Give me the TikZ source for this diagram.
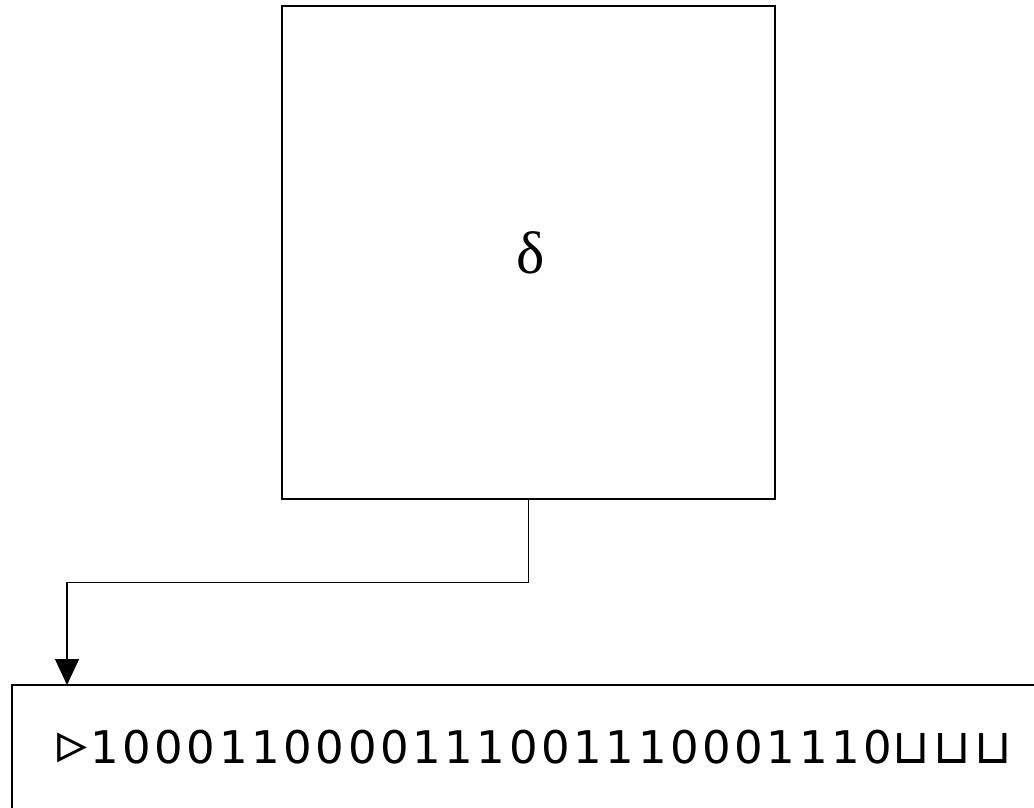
\documentclass[tikz,border=0pt]{standalone}
\usepackage{fontspec}
\setmainfont{DejaVu Sans}
\newfontfamily\deltafont{Liberation Serif}
\newfontfamily\tapefont[LetterSpace=8]{DejaVu Sans}
\usetikzlibrary{arrows.meta}
\begin{document}
\begin{tikzpicture}[x=1pt,y=-1pt,
  frame/.style={draw=black,line width=1.2pt},
  conn/.style={draw=black,line width=1.2pt,-{Triangle[width=24pt,length=26pt]}}]
\useasboundingbox (0,0) rectangle (1034,807);
\node[frame,minimum width=493pt,minimum height=493pt,inner sep=0pt] (delta) at (528.5,252.5) {};
\node[font=\deltafont\fontsize{60pt}{60pt}\selectfont,inner sep=0pt] (dl) at (531,253) {δ};
\coordinate (tapetop) at (67,685);
\draw[frame] (1050,685) -- (12,685) -- (12,830);
\node[anchor=base west,inner sep=0pt,font=\tapefont\fontsize{45pt}{45pt}\selectfont] (tape) at (57,763) {{\fontsize{60pt}{60pt}\selectfont ▹}\kern3pt 1000110000111001110001110{\fontsize{48pt}{48pt}\selectfont ⊔⊔⊔}};
\draw[conn] (delta.south) -- ++(0,83) -| (tapetop);
\end{tikzpicture}
\end{document}
